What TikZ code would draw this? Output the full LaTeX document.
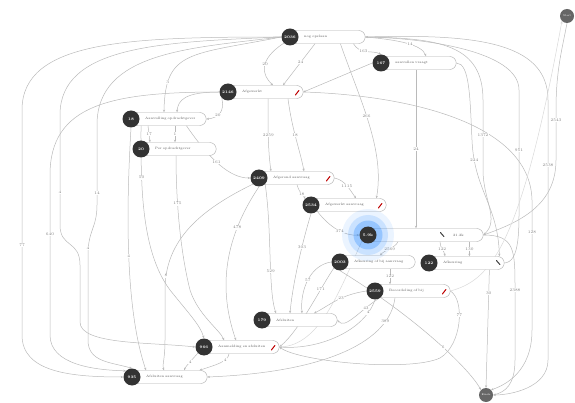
\documentclass[tikz,border=0pt]{standalone}
\usepackage[dvipsnames]{xcolor}
\usepackage{tikz}
\usetikzlibrary{arrows.meta,calc,backgrounds}

\tikzset{
  act/.style={circle,fill=black!80,text=white,minimum size=17pt,inner sep=0pt,font=\fontsize{3.8}{4}\selectfont\bfseries},
  pill/.style={draw=black!32,fill=white,rounded corners=6.5pt,minimum height=13pt,anchor=west,inner xsep=7pt,inner ysep=0pt,text width=#1,align=left,font=\fontsize{3.3}{4}\selectfont,text=black!65},
  pill/.default=61pt,
  gate/.style={circle,fill=black!60,text=white,minimum size=14pt,inner sep=0pt,font=\fontsize{2.6}{3}\selectfont},
  flow/.style={draw=black!27,line width=0.5pt,-{Stealth[length=2.6pt,width=2.2pt]}},
  lite/.style={flow,draw=black!15},
  cnt/.style={font=\fontsize{4}{4}\selectfont,text=black!50,fill=white,inner sep=0.6pt},
  tick/.style={line width=1pt,line cap=round,draw=red!75!black},
  darktick/.style={tick,draw=black!75}
}

\begin{document}
\begin{tikzpicture}[x=1pt,y=-1pt]
	\useasboundingbox (0,0) rectangle (575,403);

	% pills
	\node[pill] (p1) at (290,37) {\hspace*{7pt}nog opslaan};
	\node[pill] (p2) at (381,63) {\hspace*{7pt}aanvullen vraagt};
	\node[pill] (p3) at (228,92) {\hspace*{7pt}Afgewerkt};
	\node[pill] (p4) at (131,119) {\hspace*{7pt}Aanvulling opdrachtgever};
	\node[pill] (p5) at (141,149) {\hspace*{7pt}Per opdrachtgever};
	\node[pill] (p6) at (259,178) {\hspace*{7pt}Afgerond aanvraag};
	\node[pill] (p7) at (311,205) {\hspace*{7pt}Afgewerkt aanvraag};
	\node[pill=101pt] (p8) at (368,235) {\hspace*{78pt}21.2k};
	\node[pill] (p9) at (340,262) {\hspace*{7pt}Afkeuring of bij aanvraag};
	\node[pill] (p10) at (429,263) {\hspace*{7pt}Afkeuring};
	\node[pill] (p11) at (375,291) {\hspace*{7pt}Beoordeling of bij};
	\node[pill] (p12) at (262,320) {\hspace*{7pt}Afsluiten};
	\node[pill] (p13) at (204,347) {\hspace*{7pt}Aanmelding en afsluiten};
	\node[pill] (p14) at (132,377) {\hspace*{7pt}Afsluiten aanvraag};

	% glow
	\fill[blue!55!cyan,opacity=0.08] (368,235) circle (26);
	\fill[blue!55!cyan,opacity=0.14] (368,235) circle (20);
	\fill[blue!55!cyan,opacity=0.25] (368,235) circle (14.5);

	% activities
	\node[act] (a1) at (290,37) {2036};
	\node[act] (a2) at (381,63) {167};
	\node[act] (a3) at (228,92) {2146};
	\node[act] (a4) at (131,119) {18};
	\node[act] (a5) at (141,149) {20};
	\node[act] (a6) at (259,178) {2409};
	\node[act] (a7) at (311,205) {2534};
	\node[act] (a8) at (368,235) {5.9k};
	\node[act] (a9) at (340,262) {2003};
	\node[act] (a10) at (429,263) {122};
	\node[act] (a11) at (375,291) {2559};
	\node[act] (a12) at (262,320) {179};
	\node[act] (a13) at (204,347) {966};
	\node[act] (a14) at (132,377) {935};

	\node[gate] (st) at (567,16) {Start};
	\node[gate] (en) at (486,395) {Einde};

	% icons
	\draw[tick] ($(p3.east)+(-8,3)$) -- ++(3.5,-4.5);
	\draw[tick] ($(p6.east)+(-8,3)$) -- ++(3.5,-4.5);
	\draw[tick] ($(p7.east)+(-8,3)$) -- ++(3.5,-4.5);
	\draw[tick] ($(p11.east)+(-8,3)$) -- ++(3.5,-4.5);
	\draw[tick] ($(p13.east)+(-8,3)$) -- ++(3.5,-4.5);
	\draw[darktick] ($(p8.east)+(-43,-2.5)$) -- ++(3.5,4);
	\draw[darktick] ($(p10.east)+(-8,-2.5)$) -- ++(3.5,4);

	\begin{scope}[on background layer]
		% left wraps
		\draw[flow] (a1.west) .. controls (130,37) and (22,40) .. (22,110) -- node[cnt,pos=.6]{77} (22,335) .. controls (22,372) and (70,377) .. (a14.west);
		\draw[flow] (a1.west) .. controls (160,42) and (60,46) .. (60,115) -- node[cnt,pos=.7]{4} (60,225) .. controls (60,248) and (80,240) .. (80,265) -- (80,322) .. controls (80,345) and (150,342) .. (a13.west);
		\draw[flow] (a3.west) .. controls (110,92) and (50,105) .. (50,175) -- node[cnt,pos=.37]{640} (50,335) .. controls (50,365) and (95,370) .. (a14.north west);
		\draw[flow] (a1.west) .. controls (190,48) and (97,52) .. (97,125) -- node[cnt,pos=.85]{14} (97,205) .. controls (97,228) and (88,230) .. (88,255) -- (88,340) .. controls (88,362) and (110,362) .. (a14.north);
		\node[cnt] at (88,248) {4};
		\draw[flow] (a4.south) .. controls (128,180) and (122,300) .. node[cnt,pos=.55]{4} ($(p14.north west)+(14,0)$);
		\draw[flow] (a1.west) .. controls (190,55) and (165,50) .. node[cnt,pos=.8]{3} ($(p4.north west)+(33,0)$);

		% upper left
		\draw[flow] (a3.west) .. controls (185,92) and (178,100) .. ($(p4.north west)+(46,0)$);
		\draw[flow] (a3.south west) .. controls (225,112) and (218,118) .. node[cnt,pos=.6]{20} (p4.east);
		\draw[flow] ($(p4.south west)+(17,0)$) -- node[cnt]{17} ($(p5.north west)+(9,0)$);
		\draw[flow] ($(p4.south west)+(44,0)$) -- node[cnt]{1} ($(p5.north west)+(34,0)$);
		\draw[flow] ($(p4.south west)+(10,0)$) .. controls (141,180) and (140,250) .. node[cnt,pos=.3]{50} (170,290) .. controls (190,315) and (200,325) .. (a13.north);
		\draw[flow] ($(p5.south west)+(35,0)$) .. controls (176,200) and (180,250) .. node[cnt,pos=.35]{175} (190,290) .. controls (198,315) and (220,330) .. ($(p13.north west)+(20,0)$);
		\draw[flow] (a6.south west) .. controls (200,210) and (165,240) .. node[cnt,pos=.9]{8} (165,290) -- (165,340) .. controls (165,360) and (162,365) .. ($(p14.north west)+(32,0)$);
		\draw[flow] ($(p4.south east)+(-20,0)$) .. controls (210,160) and (230,178) .. node[cnt,pos=.45]{161} (a6.west);

		% middle to bottom
		\draw[flow] (a6.south) .. controls (230,230) and (215,280) .. node[cnt,pos=.3]{478} ($(p13.north west)+(32,0)$);
		\draw[flow] (a6.south east) .. controls (272,230) and (268,290) .. node[cnt,pos=.6]{529} ($(p12.north west)+(14,0)$);
		\draw[flow] (a7.south) .. controls (300,250) and (292,290) .. node[cnt,pos=.3]{303} ($(p12.north west)+(28,0)$);
		\draw[flow] (a9.west) .. controls (310,265) and (300,290) .. node[cnt,pos=.5]{57} ($(p12.north west)+(40,0)$);
		\draw[flow] (a9.south west) .. controls (322,285) and (300,330) .. node[cnt,pos=.3]{171} (p13.east);
		\draw[flow] (a11.west) .. controls (340,295) and (330,305) .. node[cnt,pos=.4]{23} ($(p12.north west)+(52,0)$);
		\draw[flow] ($(p11.south west)+(5,0)$) .. controls (360,310) and (345,330) .. node[cnt,pos=.25]{43} (p12.east);
		\draw[flow] (a11.south) .. controls (365,330) and (320,350) .. node[cnt,pos=.15]{4} (p13.east);
		\draw[flow] ($(p11.south west)+(20,0)$) .. controls (390,340) and (330,372) .. node[cnt,pos=.2]{389} (p14.east);
		\draw[flow] (a13.south west) .. controls (190,362) and (186,366) .. node[cnt,pos=.4]{4} ($(p14.north west)+(52,0)$);
		\draw[flow] ($(p13.south west)+(25,0)$) .. controls (228,362) and (215,365) .. node[cnt,pos=.3]{4} ($(p14.north east)+(-8,0)$);
		\draw[lite] (a8.south west) .. controls (340,290) and (320,345) .. (p13.east);

		% top
		\draw[flow] (a1.south west) .. controls (258,60) and (262,75) .. node[cnt,pos=.45]{20} ($(p3.north west)+(45,0)$);
		\draw[flow] ($(p1.south west)+(25,0)$) -- node[cnt,pos=.45]{24} ($(p3.north west)+(55,0)$);
		\draw[flow] (a2.west) -- (p3.east);
		\draw[flow] ($(p1.south east)+(-12,0)$) .. controls (360,55) and (372,50) .. node[cnt,pos=.4]{163} (a2.north);
		\draw[flow] (p1.east) .. controls (400,40) and (422,45) .. node[cnt,pos=.55]{14} ($(p2.north west)+(45,0)$);
		\draw[flow] ($(p2.south west)+(35,0)$) -- node[cnt,pos=.5]{24} ($(p8.north west)+(48,0)$);
		\draw[flow] ($(p1.south east)+(-25,0)$) .. controls (360,100) and (385,150) .. node[cnt,pos=.45]{266} ($(p7.north east)+(-10,0)$);
		\draw[flow] ($(p3.south west)+(40,0)$) .. controls (268,130) and (268,150) .. node[cnt,pos=.45]{2259} ($(p6.north west)+(12,0)$);
		\draw[flow] ($(p3.south west)+(60,0)$) .. controls (292,130) and (300,150) .. node[cnt,pos=.45]{18} ($(p6.north west)+(45,0)$);
		\draw[flow] ($(p6.south west)+(38,0)$) .. controls (300,195) and (304,195) .. node[cnt,pos=.5]{18} (a7.north west);
		\draw[flow] (p6.east) .. controls (345,180) and (350,190) .. node[cnt,pos=.5]{1115} ($(p7.north west)+(45,0)$);
		\draw[flow] (a7.south east) .. controls (330,228) and (345,236) .. node[cnt,pos=.55]{374} (a8.west);

		% around 5.9k
		\draw[flow] ($(p8.south west)+(30,0)$) .. controls (395,248) and (385,250) .. node[cnt,pos=.5]{2569} ($(p9.north west)+(40,0)$);
		\draw[flow] ($(p8.south west)+(72,0)$) .. controls (440,248) and (444,250) .. node[cnt,pos=.5]{122} ($(p10.north west)+(16,0)$);
		\draw[flow] ($(p8.south east)+(-14,0)$) -- node[cnt,pos=.5]{130} ($(p10.north east)+(-35,0)$);
		\draw[flow] ($(p9.south west)+(50,0)$) -- node[cnt,pos=.5]{122} ($(p11.north west)+(15,0)$);

		% to the end
		\draw[flow] (p11.east) .. controls (465,300) and (462,345) .. node[cnt,pos=.4]{77} (440,358) .. controls (410,372) and (300,362) .. (p13.east);
		\draw[flow] (a9.south) .. controls (420,320) and (470,370) .. node[cnt,pos=.55]{6} (en.north west);
		\draw[flow] ($(p10.south east)+(-15,0)$) -- node[cnt,pos=.2]{30} (en.north);
		\draw[flow] (p8.east) .. controls (515,235) and (515,250) .. (515,290) -- node[cnt,pos=.0]{2388} (515,360) .. controls (515,385) and (505,392) .. (en.east);
		\draw[flow] (p3.east) .. controls (400,95) and (530,120) .. (532,200) -- node[cnt,pos=.25]{128} (532,330) .. controls (532,372) and (505,385) .. (en.north east);

		% right arcs
		\draw[flow] (p10.east) .. controls (520,262) and (519,230) .. (519,200) -- node[cnt,pos=.45]{951} (519,90) .. controls (519,50) and (420,38) .. (p1.east);
		\draw[flow] (p1.east) .. controls (440,38) and (483,45) .. (483,100) -- node[cnt,pos=.5]{1372} (483,170) .. controls (483,200) and (500,220) .. (p8.east);
		\draw[flow] (p1.east) .. controls (470,34) and (548,40) .. (548,100) -- node[cnt,pos=.25]{2538} (548,360) .. controls (548,388) and (510,395) .. (en.east);
		\draw[flow] (p2.east) .. controls (470,63) and (470,100) .. (472,140) .. controls (474,190) and (498,205) .. node[cnt,pos=.15]{224} ($(p10.north east)+(-5,0)$);
		\draw[flow] (st.south) .. controls (562,50) and (556,70) .. (556,110) -- node[cnt,pos=.2]{2543} (556,160) .. controls (556,205) and (520,222) .. (p8.east);
		\draw[lite] (p11.east) .. controls (490,280) and (520,250) .. (st.south west);
	\end{scope}
\end{tikzpicture}
\end{document}
